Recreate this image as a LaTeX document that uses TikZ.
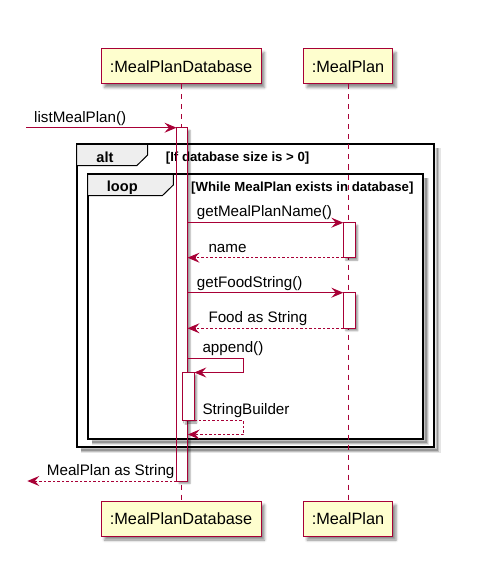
\documentclass[tikz,border=0pt]{standalone}
\usepackage{fontspec}
\setmainfont{Liberation Sans}
\usetikzlibrary{arrows.meta,shadows.blur}
\definecolor{umlred}{HTML}{A80036}
\definecolor{umlfill}{HTML}{FEFECE}
\definecolor{umlgrp}{HTML}{EEEEEE}
\tikzset{
  part/.style={draw=umlred, line width=1pt, fill=umlfill, minimum width=160pt, minimum height=35pt, inner sep=0pt,
    font=\fontsize{16.3}{19}\selectfont,
    blur shadow={shadow xshift=3.5pt, shadow yshift=-3.5pt, shadow blur radius=2.5pt, shadow opacity=45}},
  lifeline/.style={draw=umlred, line width=0.9pt, dash pattern=on 5pt off 5pt},
  actfill/.style={fill=white, blur shadow={shadow xshift=2.5pt, shadow yshift=-2.5pt, shadow blur radius=1.5pt, shadow opacity=40}},
  actline/.style={draw=umlred, line width=1pt},
  msg/.style={draw=umlred, line width=1pt, -{Stealth[length=12pt, width=10pt, inset=4.5pt]}},
  ret/.style={msg, dash pattern=on 2.5pt off 2pt},
  mlabel/.style={anchor=base west, inner sep=0pt, font=\fontsize{15.2}{18}\selectfont},
  frame/.style={draw=black, line width=2pt},
  fshadowA/.style={draw=black, line width=6pt, opacity=0.10},
  fshadowB/.style={draw=black, line width=3.5pt, opacity=0.16},
  fshadowC/.style={draw=black, line width=1.5pt, opacity=0.22},
  tab/.style={draw=black, line width=1pt, fill=umlgrp},
  gname/.style={anchor=base, inner sep=0pt, font=\fontsize{14.6}{17}\bfseries},
  gcond/.style={anchor=base west, inner sep=0pt, font=\fontsize{13.2}{16}\bfseries},
}
\begin{document}
\begin{tikzpicture}[x=1pt, y=-1pt]
\useasboundingbox (0,0) rectangle (489,572);
% participants
\node[part] (dbT) at (181,66.5) {:MealPlanDatabase};
\node[part, minimum width=89pt] (mpT) at (348,66.5) {:MealPlan};
\node[part] (dbB) at (181,519) {:MealPlanDatabase};
\node[part, minimum width=89pt] (mpB) at (348,519) {:MealPlan};
% DB lifeline
\draw[lifeline] (dbT.south) -- (dbB.north);
% DB activation fill
\fill[actfill] (176.5,127.7) rectangle (187.5,481);
% alt frame
\foreach \s in {fshadowA,fshadowB,fshadowC}
  \draw[\s] (80.5,450) -- (437.5,450) -- (437.5,148);
\draw[frame] (76.7,144.3) rectangle (434,446.7);
\draw[tab] (76.7,144.3) -- (147.7,144.3) -- (147.7,155) -- (136.7,165.7) -- (76.7,165.7) -- cycle;
\node[gname] (altname) at (105,162) {alt};
\node[gcond] (altcond) at (165.7,161) {[If database size is > 0]};
% loop frame
\foreach \s in {fshadowA,fshadowB,fshadowC}
  \draw[\s] (91.5,442) -- (426.2,442) -- (426.2,178);
\draw[frame] (87.7,174.3) rectangle (422.7,438.7);
\draw[tab] (87.7,174.3) -- (173.3,174.3) -- (173.3,185) -- (162.3,195.7) -- (87.7,195.7) -- cycle;
\node[gname] (loopname) at (122.3,191) {loop};
\node[gcond] (loopcond) at (191,191) {[While MealPlan exists in database]};
% DB activation border and nested activation
\draw[actline] (176.5,127.7) rectangle (187.5,481);
\coordinate (aDBtop) at (176.5,127.7);
\coordinate (aDBbot) at (176.5,481);
\filldraw[actfill, actline] (182.7,372.5) rectangle (194.3,420.5);
% MealPlan lifeline and activations
\draw[lifeline] (mpT.south) -- (mpB.north);
\filldraw[actfill, actline] (343.3,222.7) rectangle (355.3,257.7);
\filldraw[actfill, actline] (343.3,292.7) rectangle (355.3,328.3);
% message end points
\coordinate (inStart) at (26,127.7);
\coordinate (m1a) at (187.5,222.7);
\coordinate (m1b) at (343.3,222.7);
\coordinate (r1a) at (343.3,257.7);
\coordinate (r1b) at (187.5,257.7);
\coordinate (m2a) at (187.5,292.7);
\coordinate (m2b) at (343.3,292.7);
\coordinate (r2a) at (343.3,328.3);
\coordinate (r2b) at (187.5,328.3);
\coordinate (s1a) at (187.5,358.3);
\coordinate (s1b) at (243.3,358.3);
\coordinate (s1c) at (243.3,372.5);
\coordinate (s1d) at (194.3,372.5);
\coordinate (s2a) at (194.3,420.5);
\coordinate (s2b) at (243.3,420.5);
\coordinate (s2c) at (243.3,434.5);
\coordinate (s2d) at (187.8,434.5);
\coordinate (outEnd) at (27.3,481);
% messages
\draw[msg] (inStart) -- (aDBtop);
\node[mlabel] (l1) at (34,122.5) {listMealPlan()};
\draw[msg] (m1a) -- (m1b);
\node[mlabel] (l2) at (196.7,216.7) {getMealPlanName()};
\draw[ret] (r1a) -- (r1b);
\node[mlabel] (l3) at (208.3,252.7) {name};
\draw[msg] (m2a) -- (m2b);
\node[mlabel] (l4) at (196.7,287.7) {getFoodString()};
\draw[ret] (r2a) -- (r2b);
\node[mlabel] (l5) at (208.3,322.7) {Food as String};
\draw[msg] (s1a) -- (s1b) -- (s1c) -- (s1d);
\node[mlabel] (l6) at (202.3,352.7) {append()};
\draw[ret] (s2a) -- (s2b) -- (s2c) -- (s2d);
\node[mlabel] (l7) at (202.3,414) {StringBuilder};
\draw[ret] (aDBbot) -- (outEnd);
\node[mlabel] (l8) at (46.7,475) {MealPlan as String};
\end{tikzpicture}
\end{document}
